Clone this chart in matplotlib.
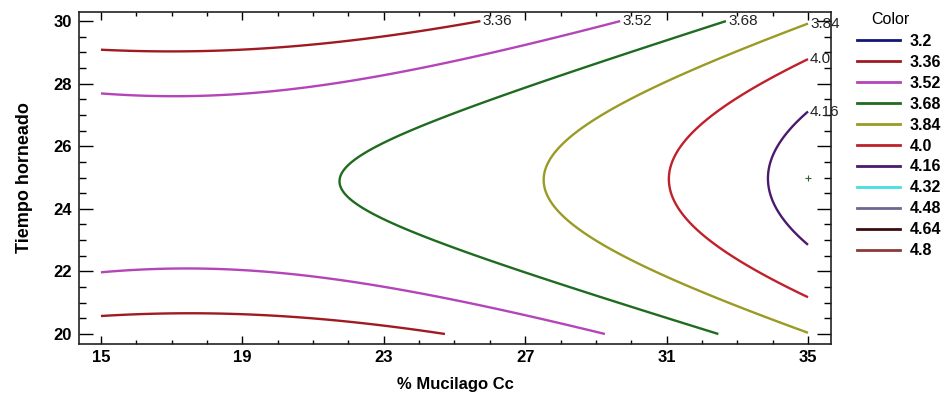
import numpy as np
import matplotlib
matplotlib.use("Agg")
import matplotlib.pyplot as plt
from matplotlib import font_manager
from matplotlib.lines import Line2D
from matplotlib.ticker import MultipleLocator

installed = {f.name for f in font_manager.fontManager.ttflist}
if "Liberation Sans Narrow" in installed:
    plt.rcParams['font.family'] = ['Liberation Sans Narrow', 'DejaVu Sans']
    narrow = True
else:
    plt.rcParams['font.family'] = ['Liberation Sans', 'DejaVu Sans']
    narrow = False

# ===== datos (modelo de superficie de respuesta) =====
# z = b0 + bx*x + bt*t + bxx*x^2 + btt*t^2 + bxt*x*t
b0 = -5.636
bx = -0.07069
bt = 0.7959
bxx = 0.001875
btt = -0.0161
bxt = 0.0002415

x_range = [15, 35]      # % Mucilago Cc
t_range = [20, 30]      # Tiempo horneado

levels = [3.2, 3.36, 3.52, 3.68, 3.84, 4.0, 4.16, 4.32, 4.48, 4.64, 4.8]
level_labels = ["3.2", "3.36", "3.52", "3.68", "3.84", "4.0",
                "4.16", "4.32", "4.48", "4.64", "4.8"]
level_colors = ["#14147a", "#a01a22", "#b445b8", "#1f6b1f", "#9a9a24",
                "#c0202a", "#4a1a6e", "#46dede", "#6a6890", "#3a0c10",
                "#8a3a3a"]

optimum = (35, 25)

# tamaños de letra (la fuente estrecha necesita un poco más)
fs_tick = 13 if narrow else 12
fs_lab = 14 if narrow else 13
fs_cont = 12.5 if narrow else 11
fs_leg = 13 if narrow else 11.5

# ===== malla =====
xg = np.linspace(x_range[0], x_range[1], 300)
tg = np.linspace(t_range[0], t_range[1], 300)
X, T = np.meshgrid(xg, tg)
Z = b0 + bx * X + bt * T + bxx * X**2 + btt * T**2 + bxt * X * T

fig = plt.figure(figsize=(9.51, 3.94), dpi=100)
ax = fig.add_axes([0.0831, 0.1269, 0.7907, 0.8426])

cs = ax.contour(X, T, Z, levels=levels, colors=level_colors, linewidths=1.7)

# etiquetas en el extremo superior de cada curva
for i, segs in enumerate(cs.allsegs):
    pts = [s for s in segs if len(s)]
    if not pts:
        continue
    allp = np.vstack(pts)
    k = np.lexsort((allp[:, 0], allp[:, 1]))[-1]
    px, py = allp[k]
    ax.annotate(level_labels[i], (px, py), xytext=(1.5, 0),
                textcoords="offset points", ha="left", va="center",
                fontsize=fs_cont, color="#222222", annotation_clip=False)

ax.plot(*optimum, marker="+", color="#3a5a3a", markersize=5, mew=0.8)

ax.set_xlim(14.38, 35.65)
ax.set_ylim(19.68, 30.29)
ax.set_xticks([15, 19, 23, 27, 31, 35])
ax.set_yticks([20, 22, 24, 26, 28, 30])
ax.xaxis.set_minor_locator(MultipleLocator(1))
ax.yaxis.set_minor_locator(MultipleLocator(0.5))
ax.tick_params(axis="both", which="both", direction="in",
               top=True, right=True, labelsize=fs_tick, width=1.0)
ax.tick_params(axis="x", which="major", length=6, pad=4)
ax.tick_params(axis="x", which="minor", length=3)
ax.tick_params(axis="y", which="major", length=10, pad=5)
ax.tick_params(axis="y", which="minor", length=5)
for lab in ax.get_xticklabels() + ax.get_yticklabels():
    lab.set_fontweight("bold")
for sp in ax.spines.values():
    sp.set_linewidth(1.2)
    sp.set_color("#222222")

ax.set_xlabel("% Mucilago Cc", fontsize=fs_lab - 1, fontweight="bold",
              labelpad=9)
ax.set_ylabel("Tiempo horneado", fontsize=fs_lab, fontweight="bold",
              labelpad=15)

# ===== leyenda =====
fig.text(890 / 951, 1 - 20 / 394, "Color", fontsize=fs_leg,
         ha="center", va="center")
handles = [Line2D([0], [0], color=c, lw=2) for c in level_colors]
leg = fig.legend(handles, level_labels, loc="upper left",
                 bbox_to_anchor=(0.889, 0.942), frameon=False,
                 handlelength=2.7, handletextpad=0.6, labelspacing=0.37,
                 borderpad=0.2, prop={"size": fs_leg, "weight": "bold"})

fig.savefig("out.png", dpi=100)
